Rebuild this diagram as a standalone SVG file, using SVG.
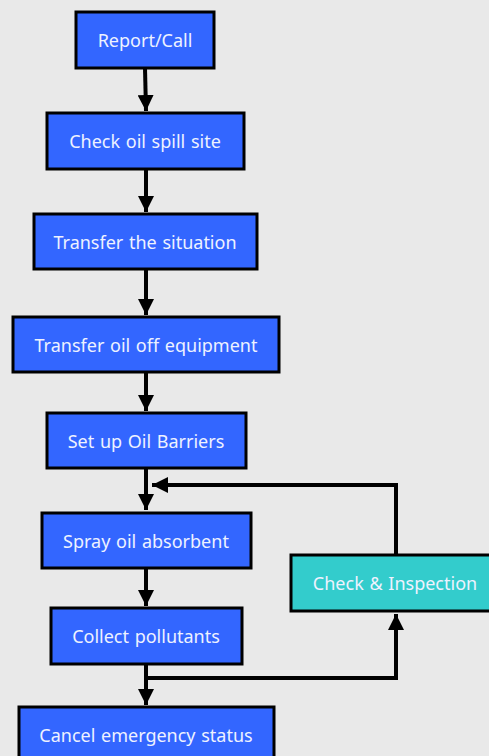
<svg xmlns="http://www.w3.org/2000/svg" width="489" height="756" viewBox="0 0 489 756">
<defs>
<style>
.n rect{fill:#3366ff;stroke:#000;stroke-width:3}
.t rect{fill:#33cccc;stroke:#000;stroke-width:3}
text{font-family:"Noto Sans","Open Sans","DejaVu Sans",sans-serif;font-size:18px;word-spacing:1px;fill:#eef2ff;text-anchor:middle}
.c path{fill:none;stroke:#000;stroke-width:4}
</style>
<marker id="ah" viewBox="0 0 10 10" refX="10" refY="5" markerWidth="4" markerHeight="4" markerUnits="strokeWidth" orient="auto">
<path d="M0,0 L10,5 L0,10 z" fill="#000"/>
</marker>
</defs>
<rect width="489" height="756" fill="#e9e9e9"/>
<g class="c">
<path d="M145,68 L146,111" marker-end="url(#ah)"/>
<path d="M146,169 L146,212" marker-end="url(#ah)"/>
<path d="M146,269 L146,315" marker-end="url(#ah)"/>
<path d="M146,372 L146,411" marker-end="url(#ah)"/>
<path d="M146,468 L146,510" marker-end="url(#ah)"/>
<path d="M146,568 L146,606" marker-end="url(#ah)"/>
<path d="M146,664 L146,705" marker-end="url(#ah)"/>
<path d="M146,678 L396,678 L396,614" marker-end="url(#ah)"/>
<path d="M396,554 L396,485 L152,485" marker-end="url(#ah)"/>
</g>
<g id="report" class="n"><rect x="76" y="12" width="138" height="56"/><text x="145" y="47">Report/Call</text></g>
<g id="check" class="n"><rect x="47" y="113" width="197" height="56"/><text x="145" y="148">Check oil spill site</text></g>
<g id="transfer" class="n"><rect x="34" y="214" width="223" height="55"/><text x="145" y="249">Transfer the situation</text></g>
<g id="transferoil" class="n"><rect x="13" y="317" width="266" height="55"/><text x="146" y="352">Transfer oil off equipment</text></g>
<g id="barriers" class="n"><rect x="47" y="413" width="199" height="55"/><text x="146" y="448">Set up Oil Barriers</text></g>
<g id="spray" class="n"><rect x="42" y="513" width="209" height="55"/><text x="146" y="548">Spray oil absorbent</text></g>
<g id="collect" class="n"><rect x="51" y="608" width="191" height="56"/><text x="146" y="643">Collect pollutants</text></g>
<g id="cancel" class="n"><rect x="19" y="707" width="255" height="60"/><text x="146" y="742">Cancel emergency status</text></g>
<g id="inspect" class="t"><rect x="291" y="555" width="210" height="56"/><text x="395" y="590">Check &amp; Inspection</text></g>
</svg>
